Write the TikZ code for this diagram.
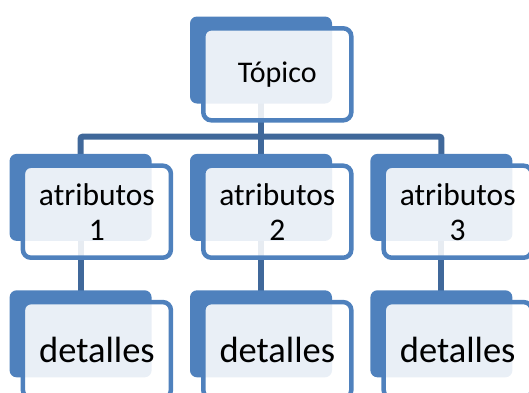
\documentclass[tikz,border=0pt]{standalone}
\usepackage{fontspec}
\setmainfont{Carlito}
\usepackage{xcolor}
\usetikzlibrary{positioning, backgrounds}
\definecolor{ShapeBlue}{RGB}{79,129,189}
\definecolor{LinkBlue}{RGB}{64,104,154}

\begin{document}
\begin{tikzpicture}[
    x=1pt, y=-1pt,
    node distance=50pt and 38pt,
    backbox/.style={rectangle, fill=ShapeBlue, rounded corners=7pt, inner sep=0pt,
                    minimum width=142pt, minimum height=87pt},
    frontbox/.style={rectangle, draw=ShapeBlue, line width=4.5pt, fill=white, fill opacity=0.88,
                     text opacity=1, rounded corners=8pt, inner sep=0pt, outer sep=0pt,
                     minimum width=148pt, minimum height=92pt, align=center,
                     anchor=north west, xshift=13.5pt, yshift=-12pt},
    conn/.style={LinkBlue, line width=6pt, rounded corners=2pt}
]
\useasboundingbox (0,0) rectangle (529,392);
% back shapes
\node[backbox] (b-top) at (261,60) {};
\node[backbox, below=of b-top] (b-a2) {};
\node[backbox, left=of b-a2] (b-a1) {};
\node[backbox, right=of b-a2] (b-a3) {};
\node[backbox, below=49pt of b-a1] (b-d1) {};
\node[backbox, below=49pt of b-a2] (b-d2) {};
\node[backbox, below=49pt of b-a3] (b-d3) {};
% connectors
\begin{scope}[on background layer]
\draw[conn] (b-top.center) -- (b-a2.center);
\draw[conn] (b-a1.center) |- ([yshift=17pt]b-a2.north) -| (b-a3.center);
\draw[conn] (b-a1.center) -- (b-d1.center);
\draw[conn] (b-a2.center) -- (b-d2.center);
\draw[conn] (b-a3.center) -- (b-d3.center);
\end{scope}
% front shapes
\node[frontbox, font=\fontsize{30}{34}\selectfont] (f-top) at (b-top.north west) {Tópico};
\node[frontbox, font=\fontsize{31.5}{35}\selectfont] (f-a1) at (b-a1.north west) {atributos\\1};
\node[frontbox, font=\fontsize{31.5}{35}\selectfont] (f-a2) at (b-a2.north west) {atributos\\2};
\node[frontbox, font=\fontsize{31.5}{35}\selectfont] (f-a3) at (b-a3.north west) {atributos\\3};
\node[frontbox, minimum height=96pt, font=\fontsize{36.5}{40}\selectfont] (f-d1) at (b-d1.north west) {detalles};
\node[frontbox, minimum height=96pt, font=\fontsize{36.5}{40}\selectfont] (f-d2) at (b-d2.north west) {detalles};
\node[frontbox, minimum height=96pt, font=\fontsize{36.5}{40}\selectfont] (f-d3) at (b-d3.north west) {detalles};
\end{tikzpicture}
\end{document}
